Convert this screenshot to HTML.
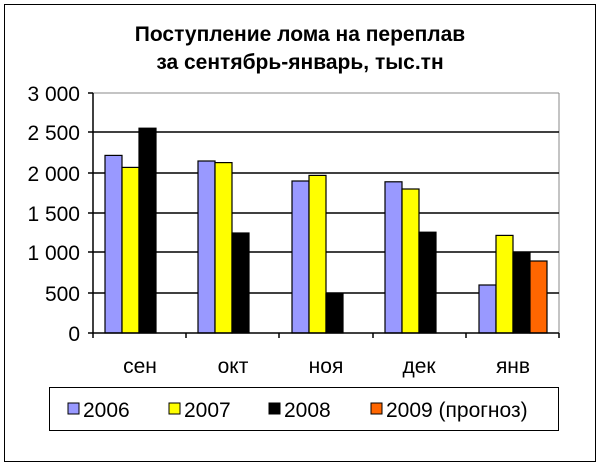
<!DOCTYPE html><html><head><meta charset="utf-8"><style>body{margin:0;background:#fff}</style></head><body>
<svg width="601" height="466" xmlns="http://www.w3.org/2000/svg" font-family="Liberation Sans, sans-serif">
<rect x="0" y="0" width="601" height="466" fill="#fff"/>
<rect x="4.5" y="4.5" width="591" height="457" fill="none" stroke="#000" stroke-width="1"/>
<text x="300" y="41" text-anchor="middle" font-size="21" font-weight="bold">Поступление лома на переплав</text>
<text x="300" y="69" text-anchor="middle" font-size="21" font-weight="bold">за сентябрь-январь, тыс.тн</text>
<line x1="93" y1="93" x2="559" y2="93" stroke="#888"/>
<line x1="559" y1="93" x2="559" y2="333" stroke="#888"/>
<g stroke="#000" stroke-width="1.5">
<line x1="93" y1="132" x2="559" y2="132"/><line x1="93" y1="173" x2="559" y2="173"/>
<line x1="93" y1="213" x2="559" y2="213"/><line x1="93" y1="252" x2="559" y2="252"/>
<line x1="93" y1="293" x2="559" y2="293"/>
</g>
<g font-size="21" text-anchor="end">
<text x="80" y="101">3 000</text><text x="80" y="140">2 500</text><text x="80" y="181">2 000</text>
<text x="80" y="221">1 500</text><text x="80" y="260">1 000</text><text x="80" y="301">500</text><text x="80" y="341">0</text>
</g>
<g stroke="#000" stroke-width="1.2">
<rect x="105" y="155.4" width="17" height="177.6" fill="#9999ff"/>
<rect x="122" y="167.4" width="17" height="165.6" fill="#ffff00"/>
<rect x="139" y="128.2" width="17" height="204.8" fill="#000"/>
<rect x="198" y="161" width="17" height="172" fill="#9999ff"/>
<rect x="215" y="162.6" width="17" height="170.4" fill="#ffff00"/>
<rect x="232" y="233" width="17" height="100" fill="#000"/>
<rect x="292" y="181" width="17" height="152" fill="#9999ff"/>
<rect x="309" y="175.4" width="17" height="157.6" fill="#ffff00"/>
<rect x="326" y="293.8" width="17" height="39.2" fill="#000"/>
<rect x="385" y="181.8" width="17" height="151.2" fill="#9999ff"/>
<rect x="402" y="189" width="17" height="144" fill="#ffff00"/>
<rect x="419" y="232.2" width="17" height="100.8" fill="#000"/>
<rect x="479" y="285" width="17" height="48" fill="#9999ff"/>
<rect x="496" y="235.4" width="17" height="97.6" fill="#ffff00"/>
<rect x="513" y="253" width="17" height="80" fill="#000"/>
<rect x="530" y="261" width="17" height="72" fill="#ff6600"/>
</g>
<g stroke="#000" stroke-width="1.5">
<line x1="93" y1="93" x2="93" y2="338"/>
<line x1="88" y1="333" x2="559" y2="333"/>
<line x1="88" y1="93" x2="93" y2="93"/><line x1="88" y1="132" x2="93" y2="132"/><line x1="88" y1="173" x2="93" y2="173"/>
<line x1="88" y1="213" x2="93" y2="213"/><line x1="88" y1="252" x2="93" y2="252"/><line x1="88" y1="293" x2="93" y2="293"/>
<line x1="186" y1="333" x2="186" y2="338"/><line x1="279" y1="333" x2="279" y2="338"/>
<line x1="373" y1="333" x2="373" y2="338"/><line x1="466" y1="333" x2="466" y2="338"/><line x1="559" y1="333" x2="559" y2="338"/>
</g>
<g font-size="21" text-anchor="middle">
<text x="140" y="373">сен</text><text x="233" y="373">окт</text><text x="326" y="373">ноя</text>
<text x="419" y="373">дек</text><text x="513" y="373">янв</text>
</g>
<rect x="49.5" y="387.5" width="509" height="43" fill="#fff" stroke="#000"/>
<g stroke="#000" stroke-width="1">
<rect x="68" y="403" width="11" height="11" fill="#9999ff"/>
<rect x="169" y="403" width="11" height="11" fill="#ffff00"/>
<rect x="269" y="403" width="11" height="11" fill="#000"/>
<rect x="371" y="403" width="11" height="11" fill="#ff6600"/>
</g>
<g font-size="21">
<text x="83" y="417">2006</text><text x="184" y="417">2007</text><text x="284" y="417">2008</text><text x="386" y="417">2009 (прогноз)</text>
</g>
</svg>
</body></html>
